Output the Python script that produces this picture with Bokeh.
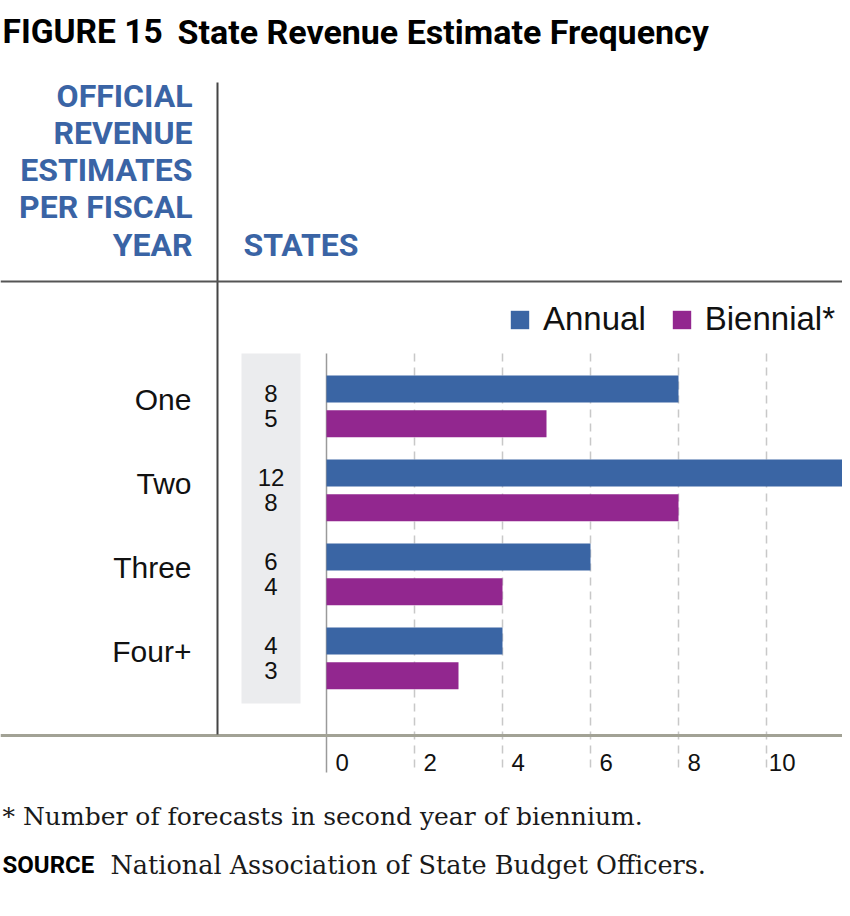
from bokeh.plotting import figure
from bokeh.models import (Range1d, FixedTicker, LinearAxis, BoxAnnotation, Label,
                          Legend, LegendItem, ColumnDataSource)
from bokeh.transform import dodge
from bokeh.core.properties import value
from bokeh.embed import file_html
from bokeh.resources import INLINE

# ---------------- data ----------------
categories = ["One", "Two", "Three", "Four+"]
annual = [8, 12, 6, 4]
biennial = [5, 8, 4, 3]
series_names = ["Annual", "Biennial*"]
x_ticks = [0, 2, 4, 6, 8, 10]

title_fig = "FIGURE 15"
title_text = "State Revenue Estimate Frequency"
header_lines = ["OFFICIAL", "REVENUE", "ESTIMATES", "PER FISCAL", "YEAR"]
states_header = "STATES"
footnote = "* Number of forecasts in second year of biennium."
source_label = "SOURCE"
source_text = "National Association of State Budget Officers."

# ---------------- styles / layout ----------------
BLUE = "#3A65A4"
PURPLE = "#92278F"
HEAD = "#3A64A5"
SANS = "Liberation Sans"
BOLDSANS = "Roboto"
SERIF = "DejaVu Serif"
W, H = 842, 908
PX0, PXU = 326, 44           # pixel of x=0, pixels per unit
PY0, PYU = 406, 84           # pixel of first group centre, pixels per group


def X(px):
    return (px - PX0) / PXU


def Y(py):
    return (py - PY0) / PYU


p = figure(width=W, height=H, output_backend="svg", toolbar_location=None,
           x_range=Range1d(X(0), X(W)), y_range=Range1d(Y(H), Y(0)),
           x_axis_location=None, y_axis_location=None,
           min_border_left=0, min_border_right=0, min_border_top=0, min_border_bottom=0)
p.outline_line_color = None
p.background_fill_color = "white"
p.border_fill_color = "white"
p.grid.visible = False

src = ColumnDataSource(dict(
    pos=list(range(len(categories))), cat=categories,
    annual=annual, biennial=biennial,
    a_txt=[str(v) for v in annual], b_txt=[str(v) for v in biennial],
))

# grey box behind the state counts
p.add_layout(BoxAnnotation(left=X(241), right=X(300), top=Y(353), bottom=Y(703),
                           fill_color="#EBECEE", fill_alpha=1, line_color=None,
                           level="underlay"))

# grid lines (dashed) and zero line
p.segment(x0=x_ticks[1:], x1=x_ticks[1:], y0=Y(353), y1=Y(772),
          line_color="#C8C8C8", line_width=1.5, line_dash="8 6")
p.segment(x0=x_ticks[:1], x1=x_ticks[:1], y0=Y(353), y1=Y(772),
          line_color="#9A9A9A", line_width=1.5)

ra = p.hbar(y=dodge("pos", -0.208, range=p.y_range), left=0, right="annual",
            height=0.321, fill_color=BLUE, line_color=None, source=src)
rb = p.hbar(y=dodge("pos", 0.206, range=p.y_range), left=0, right="biennial",
            height=0.321, fill_color=PURPLE, line_color=None, source=src)

p.text(x=X(270.5), y=dodge("pos", -0.149, range=p.y_range), text="a_txt",
       text_align="center", text_baseline="middle", text_font=value(SANS),
       text_font_size="24px", text_color="#111111", source=src)
p.text(x=X(270.5), y=dodge("pos", 0.143, range=p.y_range), text="b_txt",
       text_align="center", text_baseline="middle", text_font=value(SANS),
       text_font_size="24px", text_color="#111111", source=src)

# category axis (left) – labels drawn back into the canvas
dy = 7 / PYU
p.extra_y_ranges = {"cat": Range1d(Y(H) + dy, Y(0) + dy)}
yax = LinearAxis(y_range_name="cat", ticker=FixedTicker(ticks=list(range(len(categories)))),
                 major_label_overrides={i: c for i, c in enumerate(categories)},
                 axis_line_color=None, major_tick_line_color=None, minor_tick_line_color=None,
                 major_tick_out=0, major_tick_in=0, minor_tick_out=0,
                 major_label_standoff=-191, major_label_text_font=SANS,
                 major_label_text_font_size="30px", major_label_text_color="#111111")
p.add_layout(yax, "left")

# value axis (below) – labels sit just right of each grid line
dx = 15.7 / PXU
p.extra_x_ranges = {"lab": Range1d(X(0) - dx, X(W) - dx)}
xax = LinearAxis(x_range_name="lab", ticker=FixedTicker(ticks=x_ticks),
                 axis_line_color=None, major_tick_line_color=None, minor_tick_line_color=None,
                 major_tick_out=0, major_tick_in=0, minor_tick_out=0,
                 major_label_standoff=-155, major_label_text_font=SANS,
                 major_label_text_font_size="24px", major_label_text_color="#111111")
p.add_layout(xax, "below")

# rules
p.add_layout(BoxAnnotation(left=X(0), right=X(W), top=Y(733.5), bottom=Y(736.5),
                           fill_color="#A2A295", fill_alpha=1, line_color=None))
p.add_layout(BoxAnnotation(left=X(216), right=X(218), top=Y(82), bottom=Y(734),
                           fill_color="#444444", fill_alpha=1, line_color=None))
p.add_layout(BoxAnnotation(left=X(0), right=X(W), top=Y(280), bottom=Y(282),
                           fill_color="#555555", fill_alpha=1, line_color=None))

# legend
legend = Legend(items=[LegendItem(label=series_names[0], renderers=[ra]),
                       LegendItem(label=series_names[1], renderers=[rb])],
                orientation="horizontal", location=(508, H - 338),
                glyph_width=23, glyph_height=23, label_standoff=12, spacing=24,
                padding=0, margin=0, border_line_color=None, background_fill_alpha=0,
                label_text_font=SANS, label_text_font_size="33px",
                label_text_color="#111111")
p.add_layout(legend)


def lab(text, px, py, size, font, color="#111111", align="left", style="normal"):
    p.add_layout(Label(x=X(px), y=Y(py), text=text, text_align=align,
                       text_baseline="middle", text_font=font,
                       text_font_size=size, text_color=color, text_font_style=style))


lab(title_fig, 2, 31, "33.5px", BOLDSANS, style="bold", color="#000000")
lab(title_text, 177, 31, "34px", BOLDSANS, style="bold", color="#000000")
for line, mid in zip(header_lines, [95.5, 132.5, 169, 206.5, 244]):
    lab(line, 192, mid, "32px", "Roboto", color=HEAD, align="right", style="bold")
lab(states_header, 243, 244, "32px", "Roboto", color=HEAD, style="bold")
lab(footnote, 2, 816, "25px", SERIF, color="#1a1a1a")
lab(source_label, 2, 864, "24px", BOLDSANS, style="bold", color="#000000")
lab(source_text, 110, 864, "25.5px", SERIF, color="#1a1a1a")

open("out.html", "w").write(file_html(p, INLINE))
